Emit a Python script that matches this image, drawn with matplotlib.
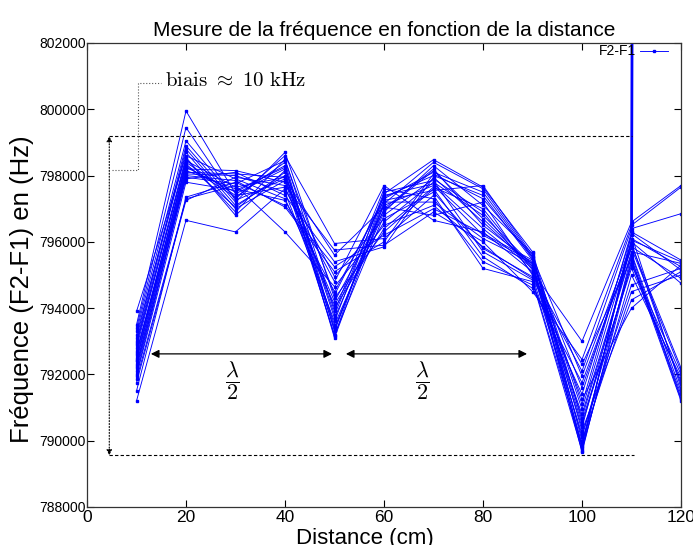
import matplotlib.pyplot as plt

plt.rcParams['font.family'] = ['Liberation Sans', 'DejaVu Sans']
plt.rcParams['mathtext.fontset'] = 'cm'

# distances (cm) and measured F2-F1 (Hz), one list per distance, one entry per run
distances = [10, 20, 30, 40, 50, 60, 70, 80, 90, 100, 110, 120]

f10 = [793900, 792450, 793300, 791200, 792900, 793100, 792200, 792600, 791850, 793500, 792000, 792800, 793200,
       792300, 791750, 792650, 793000, 792100, 791500, 792950, 792400, 791950, 793400, 792500, 792250, 792700]
f20 = [798600, 798250, 799050, 796650, 798450, 798900, 797900, 798350, 797300, 799950, 798000, 798500, 798700,
       798150, 797250, 798300, 798800, 798050, 797350, 798550, 798200, 797800, 799450, 798400, 798100, 797950]
f30 = [797900, 797500, 797300, 796300, 797650, 797200, 798100, 797050, 797700, 797450, 797850, 796900, 797000,
       797600, 797950, 797350, 797100, 798000, 797800, 796800, 798150, 797550, 797250, 797400, 798050, 797750]
f40 = [797300, 798300, 798600, 797600, 797950, 798700, 797400, 798100, 796300, 798200, 797050, 798500, 797850,
       797250, 797700, 798400, 798000, 797500, 797100, 798150, 797800, 798250, 797900, 797650, 797950, 798450]
f50 = [794100, 793300, 795950, 794800, 793500, 794300, 795400, 793150, 794650, 793700, 795100, 793900, 793200,
       794500, 795750, 793400, 794000, 793600, 795250, 793100, 794950, 793800, 795600, 794200, 793350, 794400]
f60 = [796600, 797300, 796100, 797700, 796900, 796300, 795850, 797450, 796500, 797100, 796000, 797600, 796800,
       797250, 795900, 797000, 796400, 797500, 796200, 797150, 796700, 797400, 797050, 796950, 797200, 797350]
f70 = [797800, 798100, 797400, 796650, 798300, 797600, 797950, 798480, 797100, 797700, 798050, 797300, 797900,
       797550, 796900, 798200, 797650, 797850, 797000, 798400, 797500, 797750, 796800, 798150, 797200, 798000]
f80 = [796800, 797500, 795200, 796300, 797100, 795550, 796600, 797650, 795850, 796200, 797300, 795400, 796900,
       797700, 796000, 796500, 797000, 795700, 796250, 797600, 795800, 796400, 797200, 796700, 796100, 797400]
f90 = [795300, 795500, 794800, 795100, 795650, 794600, 795250, 795700, 794900, 795400, 795550, 794700, 795050,
       795600, 794500, 795350, 795150, 794850, 795450, 795550, 794950, 795200, 795000, 795250, 795350, 795450]
f100 = [790400, 791100, 789700, 793000, 790000, 791750, 789900, 790600, 792100, 789650, 790300, 791400, 790800,
        789800, 792450, 790100, 791250, 789850, 790500, 791950, 790200, 789750, 792300, 790700, 791600, 790950]
f110 = [795900, 796300, 795400, 796600, 794500, 795800, 796050, 795200, 796400, 795600, 794250, 796200, 795700,
        795000, 796500, 795450, 794000, 796100, 795300, 795950, 794700, 796250, 795500, 795650, 795850, 796000]
f120 = [792200, 795450, 791200, 797700, 795000, 792100, 795400, 791800, 796850, 791300, 795100, 791600, 795350,
        791900, 797650, 791400, 795300, 795250, 792000, 791700, 795200, 795150, 791250, 791500, 794900, 794750]

# one run jumps off the scale at 110 cm
spike_x = [110, 110.3]
spike_f = [796300, 812000]

columns = [f10, f20, f30, f40, f50, f60, f70, f80, f90, f100, f110, f120]

fig = plt.figure(figsize=(6.93, 5.45), dpi=100)
ax = fig.add_axes([87 / 693, 38 / 545, 594 / 693, 464 / 545])

blue = '#0000ff'
for i in range(len(f10)):
    vals = [col[i] for col in columns]
    ax.plot(distances, vals, color=blue, lw=0.65, marker='s', ms=2.1,
            label='F2-F1' if i == 0 else None)
ax.plot(spike_x, spike_f, color=blue, lw=2.0, marker='s', ms=2.1)

ax.set_xlim(0, 120)
ax.set_ylim(788000, 802000)
ax.set_xticks(range(0, 121, 20))
ax.set_yticks(range(788000, 802001, 2000))
ax.tick_params(direction='in', top=True, right=True, length=5, width=0.8)
ax.tick_params(axis='x', labelsize=12.5, pad=2)
ax.tick_params(axis='y', labelsize=10, pad=1)
for s in ax.spines.values():
    s.set_color('#333333')
    s.set_linewidth(0.9)

ax.set_title('Mesure de la fréquence en fonction de la distance', fontsize=15, pad=5)
ax.set_xlabel('Distance (cm)', fontsize=16)
ax.xaxis.set_label_coords(0.468, -0.045)
ax.set_ylabel('Fréquence (F2-F1) en (Hz)', fontsize=18.5)
ax.yaxis.set_label_coords(-0.090, 0.47)

ax.legend(loc='upper right', bbox_to_anchor=(0.978, 0.997), markerfirst=False, frameon=False,
          fontsize=10, handlelength=2, handletextpad=0.3, borderpad=0, borderaxespad=0, numpoints=1)

# bias annotation
top_ref, low_ref = 799190, 789560
ax.plot([4.5, 110.2], [top_ref, top_ref], color='k', lw=0.8, ls=(0, (3, 2)))
ax.plot([4.5, 110.5], [low_ref, low_ref], color='k', lw=0.8, ls=(0, (3, 2)))
ax.annotate('', xy=(4.5, top_ref), xytext=(4.5, low_ref),
            arrowprops=dict(arrowstyle='<|-|>', ls=':', color='k', lw=0.8,
                            shrinkA=0, shrinkB=0, mutation_scale=8))
ax.plot([5.0, 10.4, 10.4, 15.0], [798170, 798170, 800790, 800790], color='#555555', lw=0.8, ls=':')
ax.text(15.8, 800880, r'$\mathrm{biais}\ \approx\ 10\ \mathrm{kHz}$', fontsize=15, va='center', ha='left')

# half-wavelength arrows
for x0, x1, xt in [(12.9, 49.5, 29.3), (52.3, 88.9, 67.7)]:
    ax.annotate('', xy=(x1, 792620), xytext=(x0, 792620),
                arrowprops=dict(arrowstyle='<|-|>', color='k', lw=0.9,
                                shrinkA=0, shrinkB=0, mutation_scale=12))
    ax.text(xt, 791830, r'$\dfrac{\lambda}{2}$', fontsize=16, va='center', ha='center')

fig.savefig('out.png', dpi=100)
